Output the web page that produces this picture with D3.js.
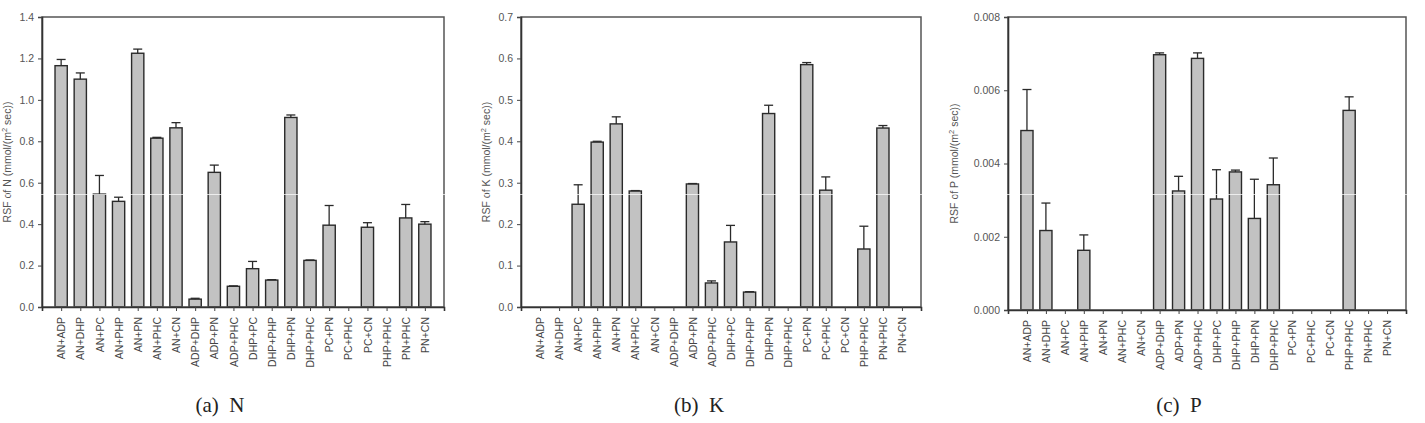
<!DOCTYPE html>
<html>
<head>
<meta charset="utf-8">
<script src="https://cdn.jsdelivr.net/npm/d3@7"></script>
<style>
  html, body { margin: 0; padding: 0; background: #fff; }
  svg { display: block; font-family: "Liberation Sans", Arial, sans-serif; }
</style>
</head>
<body>
<div id="chart"></div>
<script>
const categories = ['AN+ADP', 'AN+DHP', 'AN+PC', 'AN+PHP', 'AN+PN', 'AN+PHC', 'AN+CN',
  'ADP+DHP', 'ADP+PN', 'ADP+PHC', 'DHP+PC', 'DHP+PHP', 'DHP+PN', 'DHP+PHC',
  'PC+PN', 'PC+PHC', 'PC+CN', 'PHP+PHC', 'PN+PHC', 'PN+CN'];

const nValues = [1.165, 1.10, 0.545, 0.51, 1.225, 0.815, 0.865, 0.038, 0.65, 0.10,
  0.185, 0.13, 0.915, 0.225, 0.395, 0, 0.385, 0, 0.43, 0.40];
const nErrors = [0.03, 0.03, 0.09, 0.02, 0.02, 0.004, 0.025, 0.004, 0.035, 0.002,
  0.035, 0.002, 0.012, 0.002, 0.095, 0, 0.022, 0, 0.065, 0.012];

const kValues = [0, 0, 0.248, 0.398, 0.442, 0.28, 0, 0, 0.297, 0.058,
  0.157, 0.036, 0.467, 0, 0.585, 0.282, 0, 0.14, 0.432, 0];
const kErrors = [0, 0, 0.047, 0.002, 0.017, 0.001, 0, 0, 0.001, 0.005,
  0.04, 0.001, 0.02, 0, 0.005, 0.032, 0, 0.055, 0.006, 0];

const pValues = [0.0049, 0.00217, 0, 0.00163, 0, 0, 0, 0.00697, 0.00325, 0.00687,
  0.00303, 0.00377, 0.0025, 0.00342, 0, 0, 0, 0.00545, 0, 0];
const pErrors = [0.00112, 0.00075, 0, 0.00042, 0, 0, 0, 0.00005, 0.0004, 0.00015,
  0.0008, 0.00005, 0.00107, 0.00073, 0, 0, 0, 0.00037, 0, 0];

const nTicks = [0, 0.2, 0.4, 0.6, 0.8, 1.0, 1.2, 1.4];
const kTicks = [0, 0.1, 0.2, 0.3, 0.4, 0.5, 0.6, 0.7];
const pTicks = [0, 0.002, 0.004, 0.006, 0.008];

const captions = ['(a)  N', '(b)  K', '(c)  P'];
const elements = ['N', 'K', 'P'];

const width = 1425, height = 423;
const svg = d3.select('#chart').append('svg')
  .attr('width', width).attr('height', height);
svg.append('rect').attr('width', width).attr('height', height).attr('fill', '#fff');

const panels = [
  { values: nValues, errors: nErrors, ticks: nTicks, fmt: '.1f', left: 42, right: 444, top: 17, bottom: 307, labelX: 11, capX: 220 },
  { values: kValues, errors: kErrors, ticks: kTicks, fmt: '.1f', left: 521, right: 921, top: 17, bottom: 307, labelX: 490, capX: 699 },
  { values: pValues, errors: pErrors, ticks: pTicks, fmt: '.3f', left: 1008, right: 1406, top: 17, bottom: 310, labelX: 958, capX: 1179 },
];

panels.forEach((p, i) => {
  const g = svg.append('g');
  const x = d3.scalePoint().domain(categories).range([p.left, p.right]).padding(1);
  const y = d3.scaleLinear().domain([0, p.ticks[p.ticks.length - 1]]).range([p.bottom, p.top]);
  const bw = x.step() * 0.64;

  // bars
  const data = categories.map((c, j) => ({ c, v: p.values[j], e: p.errors[j] })).filter((d) => d.v > 0);
  g.append('g').selectAll('rect').data(data).join('rect')
    .attr('x', (d) => x(d.c) - bw / 2).attr('y', (d) => y(d.v))
    .attr('width', bw).attr('height', (d) => y(0) - y(d.v))
    .attr('fill', '#c2c2c2').attr('stroke', '#2a2a2a').attr('stroke-width', 1.4);

  // error bars (upper only)
  const eb = g.append('g').attr('stroke', '#2a2a2a').attr('stroke-width', 1.3);
  eb.selectAll('line.v').data(data).join('line').attr('class', 'v')
    .attr('x1', (d) => x(d.c)).attr('x2', (d) => x(d.c))
    .attr('y1', (d) => y(d.v)).attr('y2', (d) => y(d.v + d.e));
  eb.selectAll('line.c').data(data).join('line').attr('class', 'c')
    .attr('x1', (d) => x(d.c) - 4.5).attr('x2', (d) => x(d.c) + 4.5)
    .attr('y1', (d) => y(d.v + d.e)).attr('y2', (d) => y(d.v + d.e));

  // frame
  g.append('rect').attr('x', p.left).attr('y', p.top)
    .attr('width', p.right - p.left).attr('height', p.bottom - p.top)
    .attr('fill', 'none').attr('stroke', '#555').attr('stroke-width', 1.5);

  // y axis
  const ya = g.append('g').attr('transform', `translate(${p.left},0)`)
    .call(d3.axisLeft(y).tickValues(p.ticks).tickFormat(d3.format(p.fmt)).tickSize(4).tickPadding(4));
  ya.select('.domain').attr('stroke', '#333').attr('stroke-width', 1.6);
  ya.selectAll('.tick line').attr('stroke', '#444');
  ya.selectAll('.tick text').attr('fill', '#555').attr('font-size', 10.5);

  // x axis
  const xa = g.append('g').attr('transform', `translate(0,${p.bottom})`)
    .call(d3.axisBottom(x).tickSize(4).tickPadding(6));
  xa.select('.domain').attr('stroke', '#333').attr('stroke-width', 1.6);
  xa.selectAll('.tick line').attr('stroke', '#444');
  xa.selectAll('.tick text').attr('fill', '#444').attr('font-size', 10.5)
    .attr('transform', 'rotate(-90)').attr('text-anchor', 'end')
    .attr('x', -10).attr('y', 0).attr('dy', '0.35em');

  // y label
  const lab = g.append('text')
    .attr('transform', `translate(${p.labelX},${(p.top + p.bottom) / 2}) rotate(-90)`)
    .attr('text-anchor', 'middle').attr('font-size', 10.5).attr('fill', '#555');
  lab.append('tspan').text(`RSF of ${elements[i]} (mmol/(m`);
  lab.append('tspan').attr('font-size', 7.5).attr('dy', -4).text('2');
  lab.append('tspan').attr('dy', 4).text(' sec))');

  // caption
  svg.append('text').attr('x', p.capX).attr('y', 412)
    .attr('text-anchor', 'middle').attr('font-family', '"Liberation Serif", "DejaVu Serif", serif')
    .attr('font-size', 21).attr('fill', '#222').attr('xml:space', 'preserve')
    .text(captions[i]);
});

// faint scan line across the figure
svg.append('line').attr('x1', 0).attr('x2', width).attr('y1', 194.5).attr('y2', 194.5)
  .attr('stroke', '#fff').attr('stroke-opacity', 0.7).attr('stroke-width', 1);
</script>
</body>
</html>
